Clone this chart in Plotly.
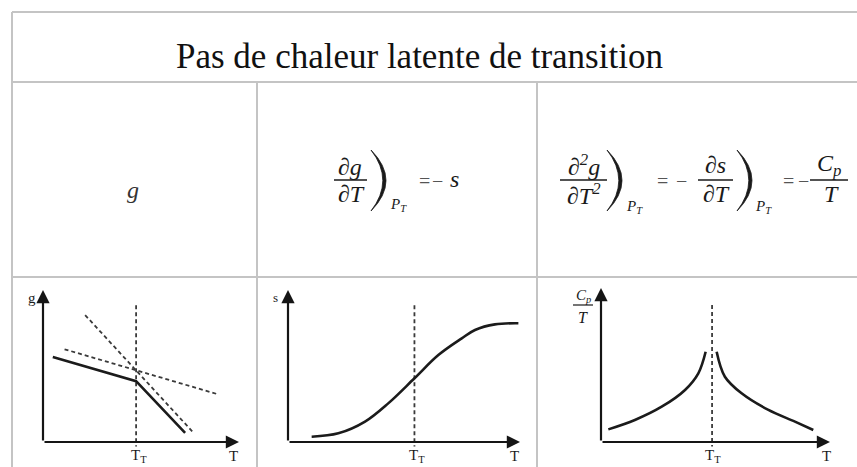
import plotly.graph_objects as go

W, H = 857, 467

# ---- data -------------------------------------------------------------
title_text = "Pas de chaleur latente de transition"

# panel 1 : g(T)
TT_g = 4.75
g_T = [0.5, 4.75, 7.25]
g_vals = [5.6, 4.0, 0.6]
g_phase1_T = [1.1, 8.9]
g_phase1 = [6.1, 3.15]
g_phase2_T = [2.15, 7.65]
g_phase2 = [8.35, 0.65]

# panel 2 : s(T)
TT_s = 5.45
s_T = [1.02, 2.17, 3.32, 4.32, 5.45, 6.48, 7.49, 8.06, 8.92, 9.93]
s_vals = [0.35, 0.57, 1.34, 2.54, 4.19, 5.72, 6.82, 7.37, 7.74, 7.81]

# panel 3 : Cp/T
TT_c = 4.85
c_left_T = [0.32, 1.48, 2.65, 3.67, 4.25, 4.57]
c_left = [0.82, 1.43, 2.29, 3.38, 4.46, 5.86]
c_right_T = [5.05, 5.41, 6.14, 7.31, 8.47, 9.27]
c_right = [5.86, 4.24, 3.16, 2.08, 1.32, 0.78]

axis_T_label = "T"
axis_TT_label = "T<sub>T</sub>"


# ---- helpers ----------------------------------------------------------
def px(x):
    return x / W


def py(y):
    return 1 - y / H


LO, HI = -0.6, 10.6


def domains(x0, y0, x1, y1):
    """Axis corner (x0, y0) maps to data (0, 0); tips x1 / y1 map to 10."""
    sx = (x1 - x0) / 10
    sy = (y0 - y1) / 10
    dx = [px(x0 + LO * sx), px(x0 + HI * sx)]
    dy = [py(y0 - LO * sy), py(y0 - HI * sy)]
    return dx, dy


panels = [
    dict(corner=(43, 442), tip=(239, 290)),
    dict(corner=(288, 442), tip=(520, 290)),
    dict(corner=(601, 442), tip=(830, 288)),
]

fig = go.Figure()

SOLID = dict(color="#1b1b1b", width=2.6)
DASH = dict(color="#3a3a3a", width=1.8, dash="4px,3px")

# panel 1 traces
fig.add_trace(go.Scatter(x=g_phase1_T, y=g_phase1, mode="lines", line=DASH, xaxis="x", yaxis="y"))
fig.add_trace(go.Scatter(x=g_phase2_T, y=g_phase2, mode="lines", line=DASH, xaxis="x", yaxis="y"))
fig.add_trace(go.Scatter(x=[TT_g, TT_g], y=[9.0, -0.3], mode="lines", line=DASH, xaxis="x", yaxis="y"))
fig.add_trace(go.Scatter(x=g_T, y=g_vals, mode="lines", line=SOLID, xaxis="x", yaxis="y"))

# panel 2 traces
fig.add_trace(go.Scatter(x=[TT_s, TT_s], y=[9.0, -0.3], mode="lines", line=DASH, xaxis="x2", yaxis="y2"))
fig.add_trace(go.Scatter(x=s_T, y=s_vals, mode="lines", line=dict(SOLID, shape="spline", smoothing=1.0),
                         xaxis="x2", yaxis="y2"))

# panel 3 traces
fig.add_trace(go.Scatter(x=[TT_c, TT_c], y=[8.9, -0.3], mode="lines", line=DASH, xaxis="x3", yaxis="y3"))
fig.add_trace(go.Scatter(x=c_left_T, y=c_left, mode="lines", line=dict(SOLID, shape="spline", smoothing=1.0),
                         xaxis="x3", yaxis="y3"))
fig.add_trace(go.Scatter(x=c_right_T, y=c_right, mode="lines", line=dict(SOLID, shape="spline", smoothing=1.0),
                         xaxis="x3", yaxis="y3"))

layout_axes = {}
annotations = []
for i, p in enumerate(panels):
    dx, dy = domains(*p["corner"], *p["tip"])
    sfx = "" if i == 0 else str(i + 1)
    layout_axes["xaxis" + sfx] = dict(domain=dx, range=[LO, HI], visible=False, fixedrange=True,
                                      anchor="y" + sfx)
    layout_axes["yaxis" + sfx] = dict(domain=dy, range=[LO, HI], visible=False, fixedrange=True,
                                      anchor="x" + sfx)
    # axis arrows
    for (hx, hy) in [(10, 0), (0, 10)]:
        annotations.append(dict(x=hx, y=hy, ax=0, ay=0, xref="x" + sfx, yref="y" + sfx,
                                axref="x" + sfx, ayref="y" + sfx, text="", showarrow=True,
                                arrowhead=2, arrowsize=1.2, arrowwidth=2.2, arrowcolor="#151515",
                                standoff=0, startstandoff=0))

SERIF = "Liberation Serif, Times New Roman, serif"
INK = "#1a1a1a"


def label(x, y, text, size, xanchor="center", color=INK, family=SERIF):
    annotations.append(dict(x=px(x), y=py(y), xref="paper", yref="paper", text=text,
                            showarrow=False, xanchor=xanchor, yanchor="middle",
                            font=dict(family=family, size=size, color=color)))


# axis labels
label(32, 298, "g", 15)
label(129, 456, axis_TT_label, 15, xanchor="left")
label(233, 456, axis_T_label, 15)

label(275, 297, "s", 13)
label(407, 456, axis_TT_label, 15, xanchor="left")
label(514, 456, axis_T_label, 15)

label(583, 296, "<i>C<sub>p</sub></i>", 15)
label(583, 317, "<i>T</i>", 16)
label(703, 456, axis_TT_label, 15, xanchor="left")
label(826, 456, axis_T_label, 15)

# title
label(419, 56, title_text, 35, color="#111111")

# formula row
FS = 24
OP = 20
OPC = "#555555"
label(133, 190, "<i>g</i>", FS, color="#333333")

label(350, 167, "<i>∂g</i>", FS)
label(351, 194, "<i>∂T</i>", FS)
label(398, 205, "<i>P<sub>T</sub></i>", 15)
label(424, 181, "=", OP, color=OPC)
label(438, 181, "−", OP, color=OPC)
label(455, 179, "<i>s</i>", FS)

label(584, 165, "<i>∂<sup>2</sup>g</i>", FS)
label(584, 194, "<i>∂T<sup>2</sup></i>", FS)
label(634, 207, "<i>P<sub>T</sub></i>", 15)
label(662, 181, "=", OP, color=OPC)
label(681, 181, "−", OP, color=OPC)
label(715, 165, "<i>∂s</i>", FS)
label(716, 194, "<i>∂T</i>", FS)
label(763, 207, "<i>P<sub>T</sub></i>", 15)
label(788, 181, "=", OP, color=OPC)
label(803, 181, "−", OP, color=OPC)
label(829, 165, "<i>C<sub>p</sub></i>", FS)
label(831, 194, "<i>T</i>", FS)

shapes = []
GRID = dict(color="#c4c4c4", width=2)


def hline(x0, x1, y, line):
    shapes.append(dict(type="line", xref="paper", yref="paper", x0=px(x0), x1=px(x1),
                       y0=py(y), y1=py(y), line=line))


def vline(x, y0, y1, line):
    shapes.append(dict(type="line", xref="paper", yref="paper", x0=px(x), x1=px(x),
                       y0=py(y0), y1=py(y1), line=line))


# table frame
hline(12, 870, 12, GRID)
hline(12, 870, 82, GRID)
hline(12, 870, 277, GRID)
vline(12, 12, 480, GRID)
vline(257, 82, 480, GRID)
vline(537, 82, 480, GRID)

# fraction bars
BAR = dict(color=INK, width=1.4)
hline(334, 367, 180, BAR)
hline(560, 607, 180, BAR)
hline(698, 733, 180, BAR)
hline(810, 848, 180, BAR)
hline(573, 593, 305, dict(color=INK, width=1.2))


def paren(x0, ytop, ybot, bulge=15, thick=3.2):
    ym = (ytop + ybot) / 2
    co = x0 + 2 * bulge
    ci = x0 + 2 * (bulge - thick)
    path = (f"M{px(x0)},{py(ytop)} Q{px(co)},{py(ym)} {px(x0)},{py(ybot)} "
            f"Q{px(ci)},{py(ym)} {px(x0)},{py(ytop)} Z")
    shapes.append(dict(type="path", xref="paper", yref="paper", path=path,
                       fillcolor=INK, line=dict(color=INK, width=0.8)))


paren(371, 150, 211)
paren(607, 150, 211)
paren(737, 150, 211)

fig.update_layout(
    width=W, height=H,
    margin=dict(l=0, r=0, t=0, b=0),
    paper_bgcolor="white",
    plot_bgcolor="rgba(0,0,0,0)",
    showlegend=False,
    annotations=annotations,
    shapes=shapes,
    **layout_axes,
)

fig.write_html("out.html")
